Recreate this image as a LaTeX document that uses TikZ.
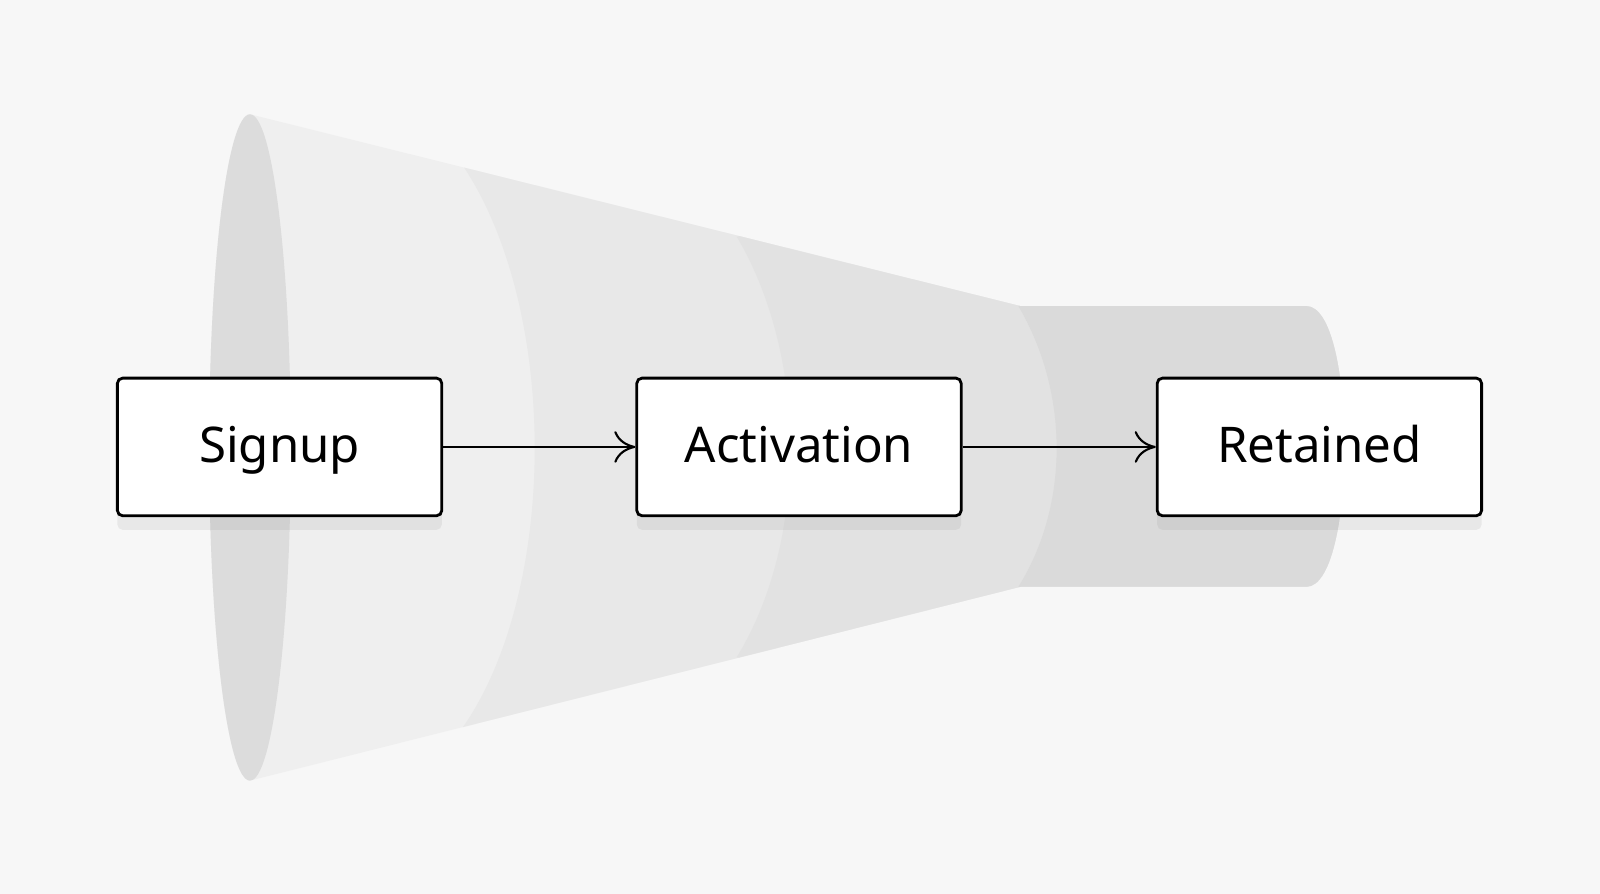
\documentclass[tikz,border=0pt]{standalone}
\usepackage{fontspec}
\setmainfont{Noto Sans}
\usetikzlibrary{arrows.meta}
\usetikzlibrary{shadows}
\definecolor{bgGray}{HTML}{F7F7F7}
\definecolor{bandA}{HTML}{EFEFEF}
\definecolor{bandB}{HTML}{E8E8E8}
\definecolor{bandC}{HTML}{E2E2E2}
\definecolor{bandD}{HTML}{DADADA}
\definecolor{mouthGray}{HTML}{DCDCDC}

\begin{document}
\begin{tikzpicture}[x=0.010204cm, y=-0.010204cm]
	\fill[bgGray] (0,0) rectangle (1568,876);
	\useasboundingbox (0,0) rectangle (1568,876);
	% funnel body
	\begin{scope}
		\path[clip] (245,112) -- (1000,300) -- (1280,300)
			.. controls (1330,300) and (1330,575) .. (1280,575)
			-- (1000,575) -- (245,765)
			.. controls (223,765) and (205,619) .. (205,438)
			.. controls (205,258) and (223,112) .. (245,112) -- cycle;
		\fill[bandA] (150,80) rectangle (1400,800);
		\fill[bandB] (452,160) .. controls (548,300) and (548,580) .. (452,715) -- (1400,800) -- (1400,80) -- cycle;
		\fill[bandC] (722,232) .. controls (792,350) and (792,530) .. (722,644) -- (1400,800) -- (1400,80) -- cycle;
		\fill[bandD] (998,300) .. controls (1048,385) and (1048,495) .. (998,575) -- (1400,800) -- (1400,80) -- cycle;
		\fill[mouthGray] (245,438.5) ellipse[x radius=40, y radius=326.5];
	\end{scope}
	% stages
	\begin{scope}[every node/.style = {draw=black, fill=white, thick, rounded corners=1.5pt,
			minimum width=3.245cm, minimum height=1.377cm, font=\fontsize{14}{16}\selectfont,
			text height=1.8ex, text depth=0.1ex,
			drop shadow={shadow xshift=0pt, shadow yshift=-4pt, opacity=0.12}}]
		\node (S) at (274,438) {Signup};
		\node (A) at (783,438) {Activation};
		\node (R) at (1293,438) {Retained};
	\end{scope}
	\begin{scope}[>={To[length=6pt,width=9pt]},
			every edge/.style={draw=black, line width=0.6pt}]
		\path [->] (S) edge (A);
		\path [->] (A) edge (R);
	\end{scope}
\end{tikzpicture}
\end{document}
